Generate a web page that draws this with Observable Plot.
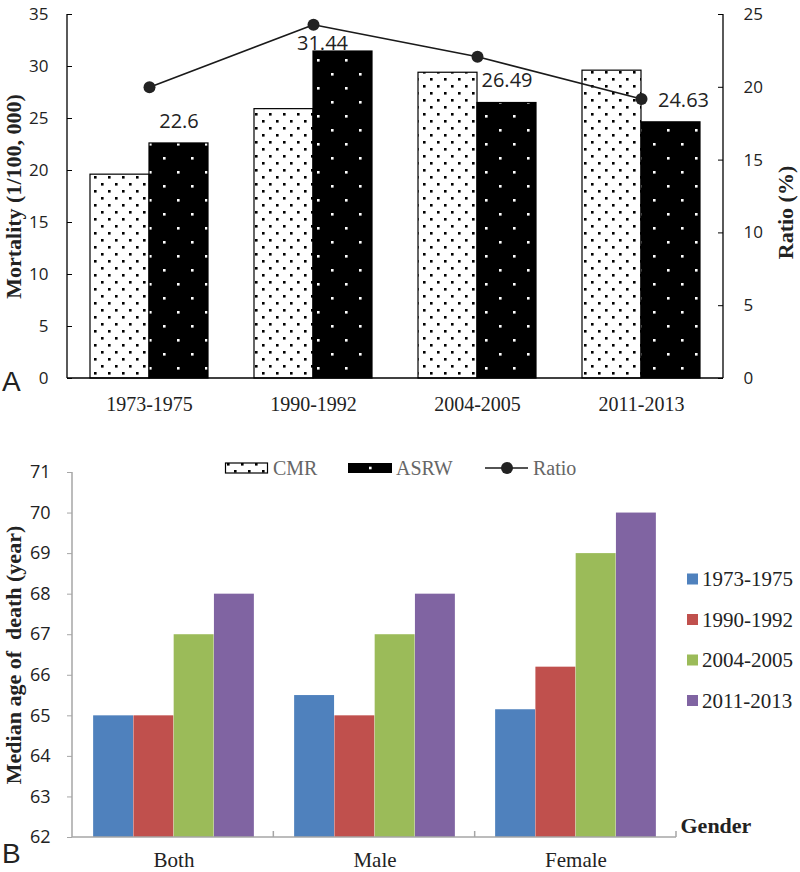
<!DOCTYPE html>
<html><head><meta charset="utf-8">
<script src="https://cdn.jsdelivr.net/npm/d3@7"></script>
<script src="https://cdn.jsdelivr.net/npm/@observablehq/plot@0.6"></script>
<style>
body{margin:0;background:#fff;}
#wrap{position:relative;width:800px;height:872px;overflow:hidden;background:#fff;}
.abs{position:absolute;white-space:pre;}
</style></head><body>
<div id="wrap">
<svg width="0" height="0" style="position:absolute;left:0;top:0">
<defs>
<pattern id="cmrPat" patternUnits="userSpaceOnUse" width="14" height="14">
<rect width="14" height="14" fill="#fff"/>
<rect x="3" y="1" width="2.6" height="2.6" fill="#000"/>
<rect x="10" y="8" width="2.6" height="2.6" fill="#000"/>
</pattern>
<pattern id="asrwPat" patternUnits="userSpaceOnUse" width="28" height="28">
<rect width="28" height="28" fill="#000"/>
<rect x="9" y="3" width="2.6" height="2.6" fill="#fff"/>
<rect x="23" y="17" width="2.6" height="2.6" fill="#fff"/>
</pattern>
</defs></svg>
<div id="chartA" class="abs" style="left:0;top:0"></div>
<div id="chartB" class="abs" style="left:0;top:420px"></div>
<div id="legendTop" class="abs" style="left:0;top:448px"></div>
<div id="legendRight" class="abs" style="left:680px;top:560px"></div>
<div class="abs" style="left:2px;top:366px;font:28px 'Liberation Sans',Arial,sans-serif;color:#222">A</div>
<div class="abs" style="left:2px;top:838px;font:28px 'Liberation Sans',Arial,sans-serif;color:#222">B</div>
</div>
<script>
// ---- Panel A data ----
const periods = ["1973-1975", "1990-1992", "2004-2005", "2011-2013"];
const cmr = [19.6, 25.9, 29.4, 29.6];
const asrw = [22.6, 31.44, 26.49, 24.63];
const ratio = [20.0, 24.3, 22.1, 19.2];
const mortalityTicks = [0, 5, 10, 15, 20, 25, 30, 35];
const ratioTicks = [0, 5, 10, 15, 20, 25];
const seriesLabels = ["CMR", "ASRW", "Ratio"];
const titleA = "Mortality (1/100, 000)";
const titleARight = "Ratio (%)";

// ---- Panel B data ----
const genders = ["Both", "Male", "Female"];
const age1973 = [65, 65.5, 65.15];
const age1990 = [65, 65, 66.2];
const age2004 = [67, 67, 69];
const age2011 = [68, 68, 70];
const ageTicks = [62, 63, 64, 65, 66, 67, 68, 69, 70, 71];
const periodColors = ["#4F81BD", "#C0504D", "#9BBB59", "#8064A2"];
const titleB = "Median age of\u00a0 death (year)";
const xTitleB = "Gender";

const serif = "'Liberation Serif','Times New Roman',serif";
const sans = "'Open Sans','Liberation Sans',sans-serif";

// ---------- Panel A ----------
const rowsA = periods.map((p, i) => ({period: p, cmr: cmr[i], asrw: asrw[i], ratio: ratio[i]}));
const k = mortalityTicks[mortalityTicks.length - 1] / ratioTicks[ratioTicks.length - 1];
const mlA = 67, mrA = 77;
const frameWA = 800 - mlA - mrA;
const bwA = frameWA / periods.length;
const outer = 23;

function frameLinesA(index, scales, values, dims) {
  const g = d3.create("svg:g").attr("stroke", "#000").attr("stroke-width", 1.3);
  const x0 = dims.marginLeft, x1 = dims.width - dims.marginRight;
  const y0 = dims.marginTop, y1 = dims.height - dims.marginBottom;
  g.append("line").attr("x1", x0).attr("x2", x0).attr("y1", y0).attr("y2", y1);
  g.append("line").attr("x1", x1).attr("x2", x1).attr("y1", y0).attr("y2", y1);
  g.append("line").attr("x1", x0).attr("x2", x1).attr("y1", y1).attr("y2", y1);
  return g.node();
}

const labelStyle = {x: "period", y: "asrw", text: d => String(d.asrw), fontSize: 20, fontFamily: sans, fill: "#222"};
const asrwCenter = (bwA / 2 - outer) / 2;

const chartA = Plot.plot({
  width: 800, height: 420,
  marginTop: 14, marginBottom: 42, marginLeft: mlA, marginRight: mrA,
  x: {domain: periods, padding: 0, axis: null},
  y: {domain: [0, 35], axis: null},
  style: {background: "transparent", overflow: "visible"},
  marks: [
    Plot.barY(rowsA, {x: "period", y: "cmr", fill: "url(#cmrPat)", stroke: "#000", strokeWidth: 1.2, insetLeft: outer, insetRight: bwA / 2}),
    Plot.barY(rowsA, {x: "period", y: "asrw", fill: "url(#asrwPat)", stroke: "#000", strokeWidth: 1.2, insetLeft: bwA / 2, insetRight: outer}),
    Plot.ruleY(mortalityTicks, {stroke: "#000", insetRight: frameWA - 5}),
    Plot.ruleY(ratioTicks.map(r => r * k), {stroke: "#000", insetLeft: frameWA - 5}),
    frameLinesA,
    Plot.line(rowsA, {x: "period", y: d => d.ratio * k, stroke: "#1a1a1a", strokeWidth: 1.6}),
    Plot.dot(rowsA, {x: "period", y: d => d.ratio * k, r: 6, fill: "#222", stroke: "none"}),
    Plot.text(rowsA, {...labelStyle, filter: d => d.period === periods[0] || d.period === periods[2], dx: asrwCenter, dy: -22}),
    Plot.text(rowsA, {...labelStyle, filter: d => d.period === periods[1], dx: 9, dy: -8}),
    Plot.text(rowsA, {...labelStyle, filter: d => d.period === periods[3], dx: 42, dy: -22}),
    Plot.axisY({anchor: "left", ticks: mortalityTicks, tickSize: 0, tickPadding: 19, fontSize: 17, fontFamily: sans, fill: "#222", label: null}),
    Plot.axisY({anchor: "right", ticks: ratioTicks.map(r => r * k), tickFormat: d => String(Math.round(d / k)), tickSize: 0, tickPadding: 20, fontSize: 17, fontFamily: sans, fill: "#222", label: null}),
    Plot.axisX({anchor: "bottom", tickSize: 0, tickPadding: 18, fontSize: 20, fontFamily: serif, fill: "#222", label: null}),
    Plot.text([titleA], {text: d => d, frameAnchor: "left", textAnchor: "middle", dx: -54, rotate: -90, fontSize: 22, fontWeight: "bold", fontFamily: serif, fill: "#222"}),
    Plot.text([titleARight], {text: d => d, frameAnchor: "right", textAnchor: "middle", dx: 62, dy: 16, rotate: -90, fontSize: 22, fontWeight: "bold", fontFamily: serif, fill: "#222"})
  ]
});
document.getElementById("chartA").append(chartA);

// ---------- Panel B ----------
const ageSeries = [age1973, age1990, age2004, age2011];
const rowsB = [];
genders.forEach((g, gi) => periods.forEach((p, pi) => rowsB.push({gender: g, period: p, pi, age: ageSeries[pi][gi]})));
const mlB = 72, mrB = 124;
const frameWB = 800 - mlB - mrB;
const bwB = frameWB / genders.length;
const barW = bwB / (periods.length + 1);
const gray = "#A6A6A6";

function frameLinesB(index, scales, values, dims) {
  const g = d3.create("svg:g").attr("stroke", gray).attr("stroke-width", 1.5);
  const x0 = dims.marginLeft, x1 = dims.width - dims.marginRight;
  const y0 = dims.marginTop, y1 = dims.height - dims.marginBottom;
  g.append("line").attr("x1", x0).attr("x2", x0).attr("y1", y0).attr("y2", y1);
  g.append("line").attr("x1", x0).attr("x2", x1).attr("y1", y1).attr("y2", y1);
  const step = (x1 - x0) / genders.length;
  for (let j = 1; j <= genders.length; j++) {
    const xx = x0 + j * step;
    g.append("line").attr("x1", xx).attr("x2", xx).attr("y1", y1 - 6).attr("y2", y1);
  }
  return g.node();
}

const chartB = Plot.plot({
  width: 800, height: 452,
  marginTop: 52, marginBottom: 35, marginLeft: mlB, marginRight: mrB,
  x: {domain: genders, padding: 0, axis: null},
  y: {domain: [ageTicks[0], ageTicks[ageTicks.length - 1]], axis: null},
  style: {background: "transparent", overflow: "visible"},
  marks: [
    ...periods.map((p, pi) => Plot.barY(rowsB, {
      filter: d => d.period === p,
      x: "gender", y1: ageTicks[0], y2: "age",
      fill: periodColors[pi],
      insetLeft: barW / 2 + barW * pi,
      insetRight: bwB - (barW / 2 + barW * pi) - barW
    })),
    frameLinesB,
    Plot.axisY({anchor: "left", ticks: ageTicks, tickSize: 5, tickPadding: 17, stroke: gray, fill: "#222", fontSize: 18, fontFamily: sans, label: null}),
    Plot.axisX({anchor: "bottom", tickSize: 0, tickPadding: 15, fontSize: 21, fontFamily: serif, fill: "#222", label: null}),
    Plot.text([titleB], {text: d => d, frameAnchor: "left", textAnchor: "middle", dx: -59, rotate: -90, fontSize: 22, fontWeight: "bold", fontFamily: serif, fill: "#222"}),
    Plot.text([xTitleB], {text: d => d, frameAnchor: "bottom-right", textAnchor: "start", dx: 4, dy: -5, fontSize: 22, fontWeight: "bold", fontFamily: serif, fill: "#222"})
  ]
});
document.getElementById("chartB").append(chartB);

// ---------- Top legend (CMR / ASRW / Ratio) ----------
const lg = d3.select("#legendTop").append("svg").attr("width", 800).attr("height", 40);
const cy = 20;
const itemX = [225, 348, 485];
lg.append("rect").attr("x", itemX[0] + 0.5).attr("y", cy - 5).attr("width", 42).attr("height", 10)
  .attr("fill", "url(#cmrPat)").attr("stroke", "#000").attr("stroke-width", 1.2);
lg.append("rect").attr("x", itemX[1]).attr("y", cy - 5).attr("width", 44).attr("height", 10).attr("fill", "#000");
lg.append("rect").attr("x", itemX[1] + 21).attr("y", cy - 1.3).attr("width", 2.6).attr("height", 2.6).attr("fill", "#fff");
lg.append("line").attr("x1", itemX[2]).attr("x2", itemX[2] + 43).attr("y1", cy).attr("y2", cy).attr("stroke", "#1a1a1a").attr("stroke-width", 1.6);
lg.append("circle").attr("cx", itemX[2] + 22).attr("cy", cy).attr("r", 6).attr("fill", "#222");
seriesLabels.forEach((s, i) => {
  lg.append("text").attr("x", itemX[i] + 48).attr("y", cy).attr("dy", "0.35em")
    .attr("font-family", serif).attr("font-size", 20).attr("fill", "#666").text(s);
});

// ---------- Right legend (periods) ----------
const lr = d3.select("#legendRight").append("svg").attr("width", 120).attr("height", 170);
periods.forEach((p, i) => {
  const yy = 19 + i * 40.5;
  lr.append("rect").attr("x", 7).attr("y", yy - 5.5).attr("width", 11).attr("height", 11).attr("fill", periodColors[i]);
  lr.append("text").attr("x", 22).attr("y", yy).attr("dy", "0.35em")
    .attr("font-family", serif).attr("font-size", 21).attr("fill", "#222").text(p);
});
</script>
</body></html>
